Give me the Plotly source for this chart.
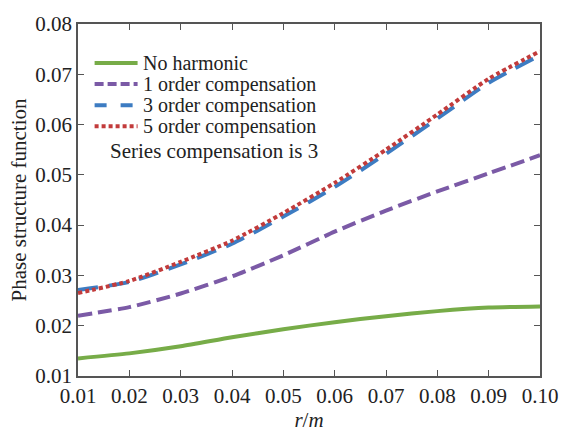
import plotly.graph_objects as go

# Separation r (m)
r = [0.01, 0.02, 0.03, 0.04, 0.05, 0.06, 0.07, 0.08, 0.09, 0.10]

# Phase structure function for each case
no_harmonic = [0.0135, 0.0145, 0.0159, 0.0177, 0.0193, 0.0207, 0.0219, 0.0229, 0.0236, 0.0238]
order1 = [0.0220, 0.0237, 0.0264, 0.0298, 0.0340, 0.0387, 0.0429, 0.0467, 0.0503, 0.0539]
order3 = [0.0271, 0.0287, 0.0322, 0.0363, 0.0417, 0.0476, 0.0542, 0.0612, 0.0683, 0.0738]
order5 = [0.0265, 0.0289, 0.0327, 0.0369, 0.0424, 0.0484, 0.0550, 0.0620, 0.0691, 0.0746]

names = ["No harmonic", "1 order compensation", "3 order compensation", "5 order compensation"]
note = "Series compensation is 3"
colors = ["#77AC48", "#7B5AA6", "#3D7CC2", "#C23B3B"]
dashes = ["solid", "14px,6px", "20px,11px", "4px,3px"]
series = [no_harmonic, order1, order3, order5]

FONT = "Liberation Serif"
TXT = "#222222"

fig = go.Figure()
for name, ys, c, d in zip(names, series, colors, dashes):
    fig.add_trace(go.Scatter(
        x=r, y=ys, name=name, mode="lines", showlegend=False,
        line=dict(color=c, width=4, dash=d, shape="spline", smoothing=0.6),
    ))

# Compact legend drawn in paper coordinates (tight row spacing)
PL, PW, PT, PH = 78, 473, 15, 371


def px(x):
    return (x - PL) / PW


def py(y):
    return 1 - (y - PT) / PH


row_y = [56.0, 78.3, 100.6, 122.9]
sample_dashes = ["solid", "9px,4px", "12px,14px", "4px,3px"]
for name, c, d, yy in zip(names, colors, sample_dashes, row_y):
    fig.add_shape(
        type="line", xref="paper", yref="paper",
        x0=px(95), x1=px(139), y0=py(yy), y1=py(yy),
        line=dict(color=c, width=4, dash=d),
    )
    fig.add_annotation(
        x=px(144), y=py(yy), xref="paper", yref="paper", xanchor="left", yanchor="middle",
        text=name, showarrow=False, borderpad=0,
        font=dict(family=FONT, size=20, color=TXT),
    )

fig.add_annotation(
    x=px(110), y=py(149), xref="paper", yref="paper", xanchor="left", yanchor="middle",
    text=note, showarrow=False, borderpad=0,
    font=dict(family=FONT, size=21, color=TXT),
)

axis_common = dict(
    showgrid=False, zeroline=False, showline=True, linecolor="#555555", linewidth=1.5,
    mirror="ticks", ticks="inside", ticklen=6, tickcolor="#555555", tickwidth=1,
    tickfont=dict(family=FONT, size=21, color=TXT),
)

fig.update_xaxes(
    range=[0.01, 0.10], tickvals=r, ticktext=[f"{v:.2f}" for v in r],
    title=dict(text="<i>r</i>/<i>m</i>", font=dict(family=FONT, size=21, color=TXT), standoff=1),
    **axis_common,
)
fig.update_yaxes(
    range=[0.01, 0.08], tickvals=[0.01, 0.02, 0.03, 0.04, 0.05, 0.06, 0.07, 0.08],
    ticktext=["0.01", "0.02", "0.03", "0.04", "0.05", "0.06", "0.07", "0.08"],
    title=dict(text="Phase structure function", font=dict(family=FONT, size=21, color=TXT), standoff=3),
    **axis_common,
)

fig.update_layout(
    width=570, height=436,
    margin=dict(l=78, r=19, t=15, b=50),
    plot_bgcolor="white", paper_bgcolor="white",
    showlegend=False,
    font=dict(family=FONT),
)

fig.write_html("out.html")
